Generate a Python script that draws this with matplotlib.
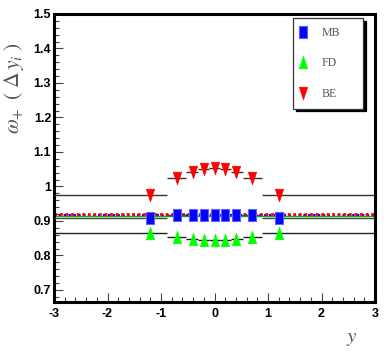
import matplotlib
matplotlib.use("Agg")
import matplotlib.pyplot as plt
from matplotlib.ticker import MultipleLocator

# rapidity positions of the points and the bin edges drawn as x-bars
y_pos = [-1.2, -0.7, -0.4, -0.2, 0.0, 0.2, 0.4, 0.7, 1.2]
bin_lo = [-3.0, -0.88, -0.53, -0.3, -0.1, 0.1, 0.3, 0.53, 0.88]
bin_hi = [-0.88, -0.53, -0.3, -0.1, 0.1, 0.3, 0.53, 0.88, 3.0]

# omega_+ values
mb_vals = [0.908, 0.916, 0.916, 0.916, 0.916, 0.916, 0.916, 0.916, 0.908]
fd_vals = [0.864, 0.853, 0.847, 0.845, 0.845, 0.845, 0.847, 0.853, 0.864]
be_vals = [0.976, 1.024, 1.042, 1.050, 1.053, 1.050, 1.042, 1.024, 0.976]

# full-range reference levels
be_ref = 0.919
mb_ref = 0.916
fd_ref = 0.913

plt.rcParams['mathtext.fontset'] = 'stix'
plt.rcParams['axes.unicode_minus'] = False

# ROOT-like narrow markers
m_rect = [(-0.7, -1), (0.7, -1), (0.7, 1), (-0.7, 1), (-0.7, -1)]
m_up = [(-0.66, -1), (0.66, -1), (0, 1), (-0.66, -1)]
m_down = [(-0.66, 1), (0.66, 1), (0, -1), (-0.66, 1)]

fig = plt.figure(figsize=(3.92, 3.54), dpi=100)
ax = fig.add_axes([54 / 392, 1 - 302 / 354, 321 / 392, 288 / 354])

xerr = [[p - lo for p, lo in zip(y_pos, bin_lo)],
        [hi - p for p, hi in zip(y_pos, bin_hi)]]

ax.axhline(fd_ref, color='#00c000', lw=1.0, zorder=2)
ax.axhline(mb_ref, color='#0000ff', lw=1.6, ls=(0, (1, 1.2)), zorder=2)
ax.axhline(be_ref, color='#ff0000', lw=2.0, ls=(0, (1, 1)), zorder=2)

ax.errorbar(y_pos, mb_vals, xerr=xerr, fmt='none', ecolor='#444444',
            elinewidth=1.0, capsize=0, zorder=3)
ax.errorbar(y_pos, fd_vals, xerr=xerr, fmt='none', ecolor='#222222',
            elinewidth=1.0, capsize=0, zorder=3)
ax.errorbar(y_pos, be_vals, xerr=xerr, fmt='none', ecolor='#333333',
            elinewidth=1.0, capsize=0, zorder=3)

ax.plot(y_pos, mb_vals, ls='none', marker=m_rect, ms=9, color='#0000ff',
        mec='#6060ff', mew=0.8, label='MB', zorder=4)
ax.plot(y_pos, fd_vals, ls='none', marker=m_up, ms=9, color='#00ff00',
        mec='#00ff00', mew=0.5, label='FD', zorder=4)
ax.plot(y_pos, be_vals, ls='none', marker=m_down, ms=9, color='#ff0000',
        mec='#ff0000', mew=0.5, label='BE', zorder=4)

ax.set_xlim(-3, 3)
ax.set_ylim(0.665, 1.5)
ax.xaxis.set_major_locator(MultipleLocator(1))
ax.xaxis.set_minor_locator(MultipleLocator(0.2))
ax.yaxis.set_major_locator(MultipleLocator(0.1))
ax.yaxis.set_minor_locator(MultipleLocator(0.02))
ax.yaxis.set_major_formatter(plt.FuncFormatter(lambda v, p: f"{v:g}"))

ax.tick_params(which='both', direction='in', top=False, right=False,
               color='#444444', width=0.8)
ax.tick_params(which='major', length=6.5)
ax.tick_params(which='minor', length=3.5)
ax.tick_params(axis='y', pad=2)
ax.tick_params(axis='x', pad=4)
for lab in ax.get_xticklabels() + ax.get_yticklabels():
    lab.set_fontfamily('Liberation Sans')
    lab.set_fontweight('bold')
    lab.set_fontsize(9)

for sp in ax.spines.values():
    sp.set_linewidth(2.2)

fig.text(14 / 392, 1 - 88 / 354, r'$\omega_{+}\;\;(\;\Delta\, y_{i}\;)$', rotation=90,
         ha='center', va='center', fontsize=15.5, color='#555555')
fig.text(352 / 392, 1 - 338 / 354, r'$y$', ha='center', va='center',
         fontsize=15, color='#555555')

leg = ax.legend(loc='upper left', bbox_to_anchor=(0.745, 0.675, 0.218, 0.31),
                mode='expand', frameon=True,
                fancybox=False, shadow={'color': 'black', 'alpha': 1.0},
                handlelength=0.1, handletextpad=1.6, labelspacing=1.55,
                borderpad=0.75, borderaxespad=0,
                prop={'family': 'Liberation Serif', 'size': 8.5})
leg.get_frame().set_edgecolor('#333333')
leg.get_frame().set_linewidth(0.9)
for t in leg.get_texts():
    t.set_color('#555555')

fig.savefig('out.png', dpi=100)
